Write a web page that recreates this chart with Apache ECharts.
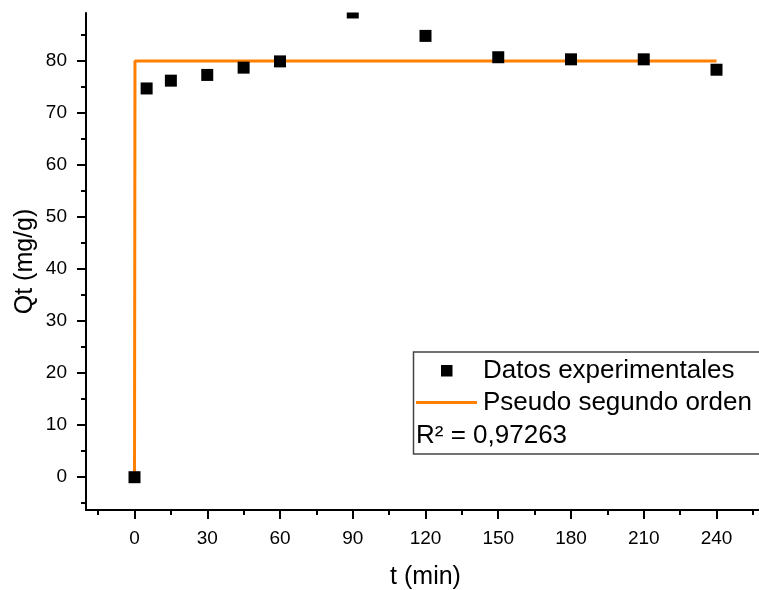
<!DOCTYPE html>
<html>
<head>
<meta charset="utf-8">
<script src="https://cdn.jsdelivr.net/npm/echarts@6/dist/echarts.min.js"></script>
<style>
html,body{margin:0;padding:0;background:#fff;}
#chart{width:759px;height:590px;}
</style>
</head>
<body>
<div id="chart"></div>
<script>
// Experimental data
const tExp = [0, 5, 15, 30, 45, 60, 90, 120, 150, 180, 210, 240];
const qExp = [0, 74.7, 76.2, 77.3, 78.7, 79.9, 89.3, 84.8, 80.7, 80.3, 80.3, 78.3];
// Pseudo second order fit
const tFit = [0, 0.2, 5, 15, 30, 45, 60, 90, 120, 150, 180, 210, 240];
const qFit = [0, 80.0, 80.0, 80.0, 80.0, 80.0, 80.0, 80.0, 80.0, 80.0, 80.0, 80.0, 80.0];
// Ticks
const xMajor = [0, 30, 60, 90, 120, 150, 180, 210, 240];
const xMinor = [-15, 15, 45, 75, 105, 135, 165, 195, 225, 255];
const yMajor = [0, 10, 20, 30, 40, 50, 60, 70, 80];
const yMinor = [-5, 5, 15, 25, 35, 45, 55, 65, 75, 85];
const seriesNames = ['Datos experimentales', 'Pseudo segundo orden'];
const r2Text = 'R² = 0,97263';

const FONT = '"Liberation Sans", Arial, sans-serif';
const LFONT = '26px ' + FONT;
const chart = echarts.init(document.getElementById('chart'), null, {renderer: 'canvas'});

const tickLine = {color: '#000', width: 2};
const option = {
  backgroundColor: '#fff',
  animation: false,
  textStyle: {fontFamily: FONT},
  grid: {left: 86, top: 13, right: -6, bottom: 80, containLabel: false, outerBoundsMode: 'none'},
  xAxis: [
    {
      type: 'value', min: -20, max: 260, position: 'bottom',
      axisLine: {onZero: false, lineStyle: tickLine},
      axisTick: {customValues: xMajor, length: 9, lineStyle: tickLine},
      axisLabel: {customValues: xMajor, margin: 19, fontSize: 19, color: '#000', fontFamily: FONT},
      splitLine: {show: false},
      name: 't (min)', nameLocation: 'middle', nameGap: 55, nameMoveOverlap: false,
      nameTextStyle: {fontSize: 25, color: '#000', fontFamily: FONT}
    },
    {
      type: 'value', min: -20, max: 260, position: 'bottom',
      axisLine: {show: false, onZero: false},
      axisTick: {customValues: xMinor, length: 5, lineStyle: tickLine},
      axisLabel: {show: false},
      splitLine: {show: false}
    }
  ],
  yAxis: [
    {
      type: 'value', min: -6.3, max: 89.2, position: 'left',
      axisLine: {show: true, onZero: false, lineStyle: tickLine},
      axisTick: {show: true, customValues: yMajor, length: 9, lineStyle: tickLine},
      axisLabel: {customValues: yMajor, margin: 19, fontSize: 19, color: '#000', fontFamily: FONT},
      splitLine: {show: false},
      name: 'Qt (mg/g)', nameLocation: 'middle', nameGap: 48, nameMoveOverlap: false,
      nameTextStyle: {fontSize: 25, color: '#000', fontFamily: FONT}
    },
    {
      type: 'value', min: -6.3, max: 89.2, position: 'left',
      axisLine: {show: false, onZero: false},
      axisTick: {show: true, customValues: yMinor, length: 5, lineStyle: tickLine},
      axisLabel: {show: false},
      splitLine: {show: false}
    }
  ],
  series: [
    {
      name: seriesNames[1], type: 'line', xAxisIndex: 0, yAxisIndex: 0,
      data: tFit.map((t, i) => [t, qFit[i]]),
      showSymbol: false, symbol: 'none',
      lineStyle: {color: '#ff8000', width: 3},
      itemStyle: {color: '#ff8000'},
      z: 2
    },
    {
      name: seriesNames[0], type: 'scatter', xAxisIndex: 0, yAxisIndex: 0,
      data: tExp.map((t, i) => [t, qExp[i]]),
      symbol: 'rect', symbolSize: 12, clip: false,
      itemStyle: {color: '#000', opacity: 1},
      z: 3
    }
  ],
  graphic: [
    {type: 'rect', z: 100, silent: true, shape: {x: 88, y: 0, width: 700, height: 12.5}, style: {fill: '#fff'}},
    {type: 'rect', z: 50, silent: true, shape: {x: 413.5, y: 352, width: 400, height: 102}, style: {fill: 'none', stroke: '#444', lineWidth: 1.5}},
    {type: 'rect', z: 50, silent: true, shape: {x: 441, y: 365, width: 11.5, height: 11.5}, style: {fill: '#000'}},
    {type: 'line', z: 50, silent: true, shape: {x1: 416, y1: 402.5, x2: 477, y2: 402.5}, style: {stroke: '#ff8000', lineWidth: 3}},
    {type: 'text', z: 50, silent: true, x: 483, y: 371, style: {text: seriesNames[0], font: LFONT, fill: '#000', verticalAlign: 'middle'}},
    {type: 'text', z: 50, silent: true, x: 483, y: 403, style: {text: seriesNames[1], font: LFONT, fill: '#000', verticalAlign: 'middle'}},
    {type: 'text', z: 50, silent: true, x: 416, y: 436, style: {text: r2Text, font: LFONT, fill: '#000', verticalAlign: 'middle'}}
  ]
};
chart.setOption(option);
</script>
</body>
</html>
